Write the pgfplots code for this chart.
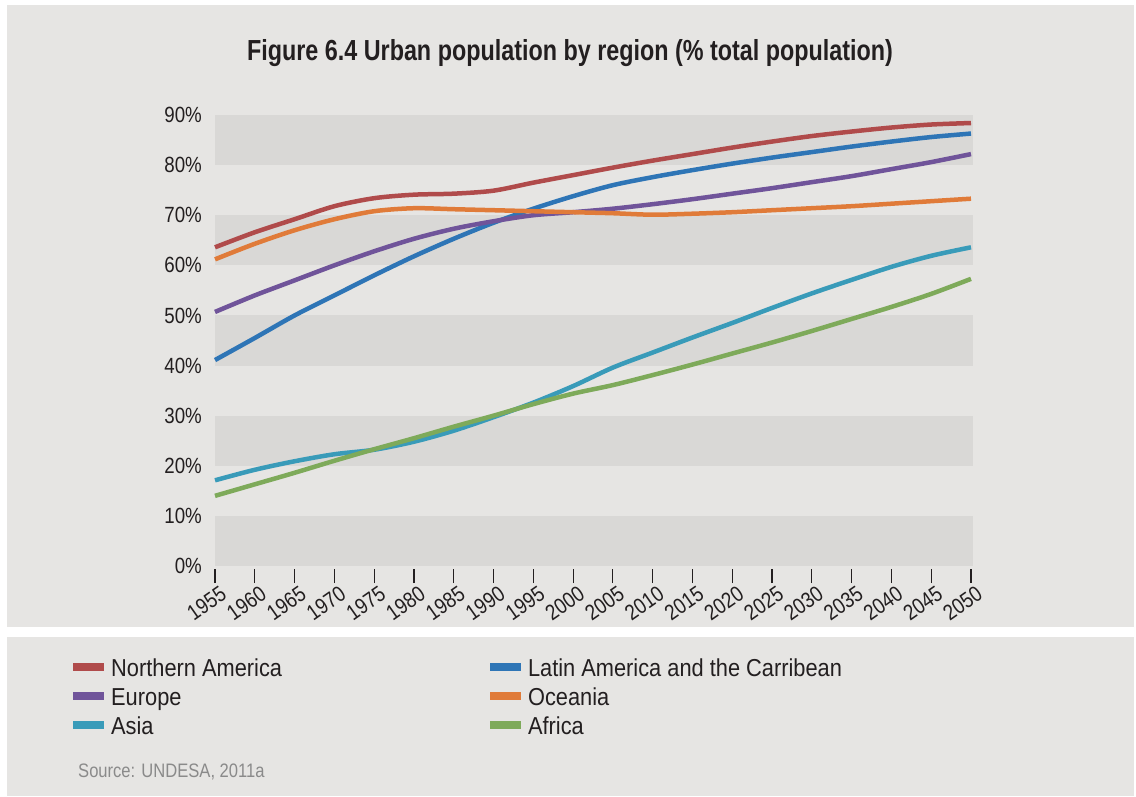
\documentclass[border=0pt]{standalone}
\usepackage{pgfplots}
\usepackage{pgfplotstable}
\pgfplotsset{compat=1.18}
\usepackage{fontspec}
\setmainfont{Liberation Sans}[FakeStretch=0.85]
\newfontfamily\titlefont{Liberation Sans}[FakeStretch=0.805]
\newfontfamily\legfont{Liberation Sans}[FakeStretch=0.89]
\definecolor{bg}{HTML}{E6E5E3}
\definecolor{band}{HTML}{D9D8D6}
\definecolor{cNA}{HTML}{B04B4B}
\definecolor{cLA}{HTML}{2E75B6}
\definecolor{cEU}{HTML}{70549A}
\definecolor{cOC}{HTML}{E07B39}
\definecolor{cAS}{HTML}{399BB9}
\definecolor{cAF}{HTML}{7EAA5A}
\definecolor{txt}{HTML}{231F20}
\definecolor{src}{HTML}{8A8A8A}

\pgfplotstableread{
year NA   LA   EU   OC   AS   AF
1955 63.6 41.1 50.7 61.2 17.1 14.0
1960 66.6 45.5 54.0 64.3 19.2 16.3
1965 69.2 50.0 57.0 67.0 20.9 18.6
1970 71.8 54.0 60.0 69.2 22.3 21.0
1975 73.4 58.0 62.8 70.8 23.2 23.3
1980 74.1 61.8 65.3 71.4 24.8 25.5
1985 74.3 65.3 67.3 71.2 27.0 27.8
1990 74.9 68.5 68.8 71.0 29.7 30.0
1995 76.5 71.3 70.0 70.8 32.6 32.3
2000 78.0 73.8 70.6 70.6 35.9 34.4
2005 79.5 76.0 71.3 70.4 39.6 36.1
2010 80.9 77.6 72.2 70.1 42.6 38.1
2015 82.2 79.0 73.2 70.3 45.6 40.2
2020 83.5 80.3 74.3 70.6 48.5 42.4
2025 84.7 81.5 75.4 71.0 51.5 44.6
2030 85.8 82.6 76.6 71.4 54.4 46.9
2035 86.7 83.7 77.8 71.8 57.1 49.3
2040 87.5 84.7 79.2 72.3 59.7 51.7
2045 88.1 85.6 80.6 72.8 61.9 54.3
2050 88.4 86.3 82.2 73.3 63.6 57.3
}\data

\begin{document}
\begin{tikzpicture}
\fill[white] (0pt,0pt) rectangle (1136pt,796pt);
\useasboundingbox (0pt,0pt) rectangle (1136pt,796pt);
\fill[bg] (7pt,169pt) rectangle (1134pt,791pt);
\fill[bg] (7pt,0pt) rectangle (1134pt,159pt);
\node[anchor=base, inner sep=0pt, text=txt, font=\titlefont\bfseries\fontsize{29}{34}\selectfont] at (570pt,735pt) {Figure 6.4 Urban population by region (\% total population)};
\node[anchor=base west, inner sep=0pt, text=src, font=\fontsize{19.5}{23}\selectfont] at (78pt,19pt) {Source: UNDESA, 2011a};
\begin{axis}[
  at={(215pt,230pt)}, anchor=south west,
  scale only axis, width=756pt, height=451pt,
  xmin=1955, xmax=2050, ymin=0, ymax=90,
  clip=false,
  axis line style={draw=none},
  xtick={1955,1960,...,2050},
  ytick={0,10,...,90},
  xtick pos=bottom, ytick pos=left,
  /pgf/number format/1000 sep={},
  /pgf/number format/assume math mode=true,
  yticklabel={\pgfmathprintnumber{\tick}\%},
  ticklabel style={font=\fontsize{22}{26}\selectfont, text=txt},
  xtick align=outside,
  major tick length=14pt,
  major x tick style={draw=txt, line width=1.2pt, yshift=-3pt},
  major y tick style={draw=none},
  yticklabel style={anchor=east, inner sep=0pt, xshift=-13pt},
  xticklabel style={rotate=35, anchor=north east, inner sep=0pt, xshift=1pt, yshift=-6pt},
  legend columns=2,
  legend style={at={(axis description cs:-0.19312,-0.19956)}, anchor=north west,
    draw=none, fill=none, inner sep=0pt, text=txt,
    font=\legfont\fontsize{24.5}{29}\selectfont,
    cells={anchor=base west},
    nodes={text height=20pt, text depth=9pt, inner ysep=0pt, inner xsep=3pt},
    /tikz/column sep=0pt, row sep=0pt,
    /tikz/column 2/.style={column sep=201pt}},
  legend image code/.code={\draw[line width=8pt] (0pt,9pt) -- (31pt,9pt);},
  every axis plot/.append style={line width=4.5pt, smooth, no markers},
]
\fill[band] (axis cs:1955,0) rectangle (axis cs:2050.25,10);
\fill[band] (axis cs:1955,20) rectangle (axis cs:2050.25,30);
\fill[band] (axis cs:1955,40) rectangle (axis cs:2050.25,50);
\fill[band] (axis cs:1955,60) rectangle (axis cs:2050.25,70);
\fill[band] (axis cs:1955,80) rectangle (axis cs:2050.25,90);
\addplot[cNA] table[x=year,y=NA] {\data};
\addlegendentry{Northern America}
\addplot[cLA] table[x=year,y=LA] {\data};
\addlegendentry{Latin America and the Carribean}
\addplot[cEU] table[x=year,y=EU] {\data};
\addlegendentry{Europe}
\addplot[cOC] table[x=year,y=OC] {\data};
\addlegendentry{Oceania}
\addplot[cAS] table[x=year,y=AS] {\data};
\addlegendentry{Asia}
\addplot[cAF] table[x=year,y=AF] {\data};
\addlegendentry{Africa}
\end{axis}
\end{tikzpicture}
\end{document}
